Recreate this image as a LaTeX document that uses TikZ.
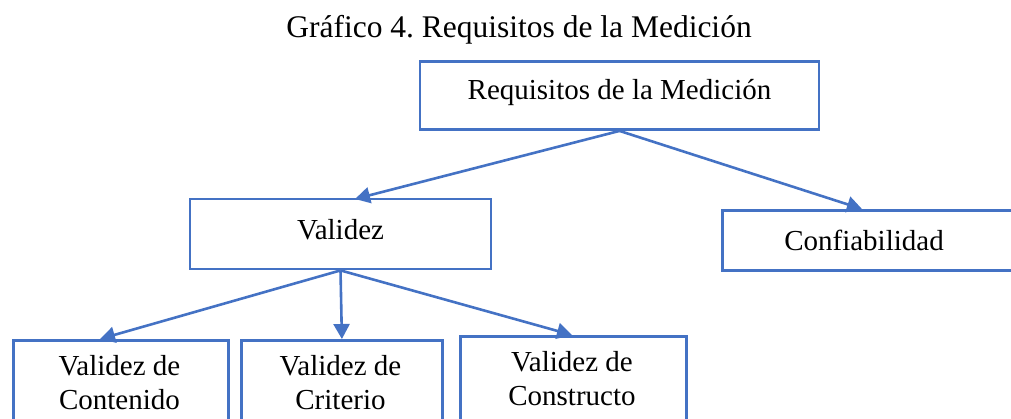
\documentclass[tikz,border=0pt]{standalone}
\usepackage{fontspec}
\setmainfont{Liberation Serif}
\usetikzlibrary{arrows.meta}
\definecolor{lineblue}{HTML}{4472C4}
\begin{document}
\frenchspacing
\begin{tikzpicture}[x=1pt,y=-1pt,
  box/.style={draw=lineblue,line width=2.8pt,inner sep=0pt},
  lbl/.style={font=\fontsize{29}{34}\selectfont,align=center},
  conn/.style={draw=lineblue,line width=2.6pt,-{Triangle[length=15pt,width=16pt]}}]
\useasboundingbox (0,0) rectangle (1011,418);
\begin{scope}
\clip (0,0) rectangle (1011,418);
\node[font=\fontsize{31.5}{36}\selectfont,anchor=base,inner sep=0pt] (title) at (519,37) {Gráfico 4. Requisitos de la Medición};
\node[box,minimum width=399pt,minimum height=68pt] (req) at (619.5,95.5) {};
\node[lbl] (reqtext) at (619.5,93) {Requisitos de la Medición};
\node[box,minimum width=301pt,minimum height=70pt] (val) at (340.5,234) {};
\node[lbl] (valtext) at (340.5,230) {Validez};
\node[box,minimum width=340pt,minimum height=60pt,anchor=north west] (conf) at (721,209) {};
\node[lbl] (conftext) at (864,240) {Confiabilidad};
\node[box,minimum width=215pt,minimum height=120pt,anchor=north west] (cont) at (12,339) {};
\node[box,minimum width=201pt,minimum height=120pt,anchor=north west] (crit) at (240,339) {};
\node[box,minimum width=226pt,minimum height=120pt,anchor=north west] (cons) at (459,335) {};
\node[lbl] (conttext) at (119.5,383) {Validez de\\Contenido};
\node[lbl] (crittext) at (340.5,383) {Validez de\\Criterio};
\node[lbl] (constext) at (572,379) {Validez de\\Constructo};
\coordinate (valin) at (355,199);
\coordinate (confin) at (862,209);
\coordinate (contin) at (100,339);
\coordinate (consin) at (572,335);
\draw[conn] (req.south) -- (valin);
\draw[conn] (req.south) -- (confin);
\draw[conn] (val.south) -- (contin);
\draw[conn] (val.south) -- (crit.north);
\draw[conn] (val.south) -- (consin);
\end{scope}
\end{tikzpicture}
\end{document}
